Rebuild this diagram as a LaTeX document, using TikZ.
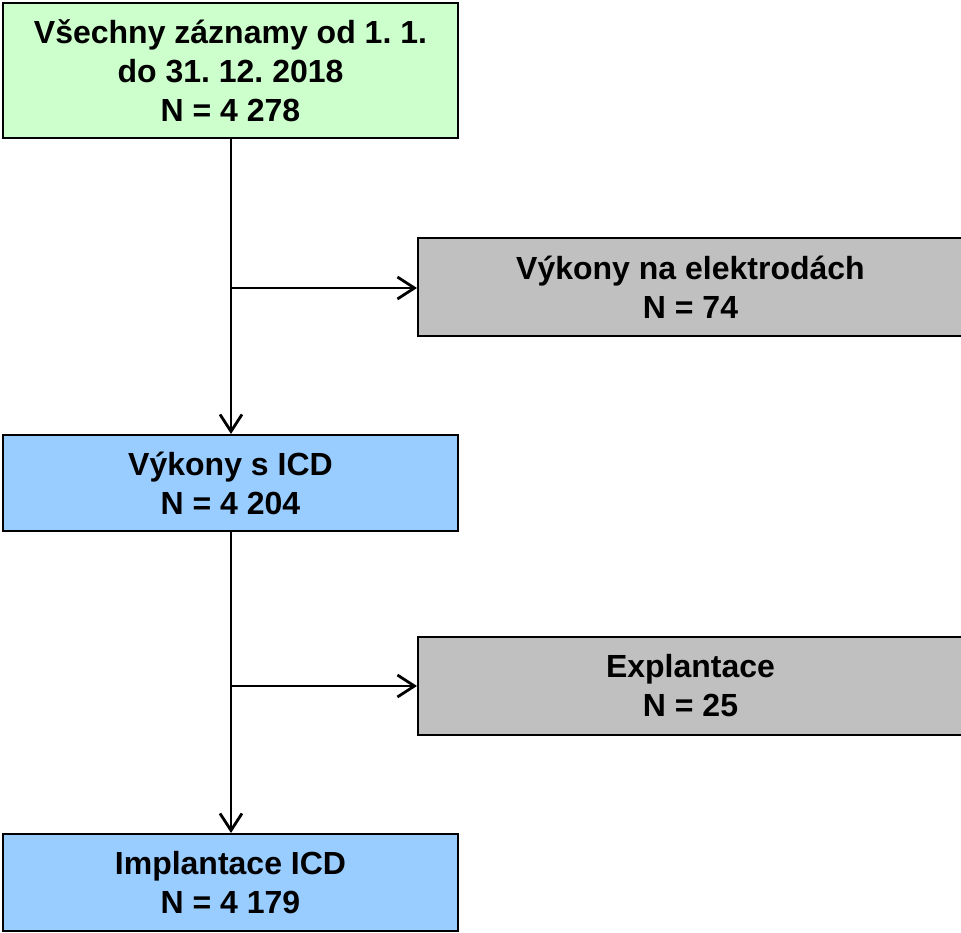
\documentclass[tikz,border=0pt]{standalone}
\usepackage{fontspec}
\setmainfont{Liberation Sans}
\usetikzlibrary{arrows.meta}
\definecolor{boxgreen}{HTML}{CCFFCC}
\definecolor{boxgray}{HTML}{C0C0C0}
\definecolor{boxblue}{HTML}{99CCFF}
\frenchspacing
\begin{document}
\begin{tikzpicture}[x=1pt,y=-1pt,
  box/.style={draw=black, line width=2pt, align=center, inner sep=0pt,
    font=\fontsize{32}{39}\selectfont\bfseries, text=black},
  conn/.style={draw=black, line width=2.7pt, -{Straight Barb[length=17pt,width=22pt,line width=2.8pt]}}]
\useasboundingbox (0,0) rectangle (961,932);
\node[box, fill=boxgreen, minimum width=455pt, minimum height=135pt] (all) at (230.5,70.5)
  {Všechny záznamy od 1. 1.\\do 31. 12. 2018\\N = 4 278};
\node[box, fill=boxgray, minimum width=545pt, minimum height=98pt] (elek) at (690.5,287)
  {Výkony na elektrodách\\N = 74};
\node[box, fill=boxblue, minimum width=455pt, minimum height=96pt] (icd) at (230.5,483)
  {Výkony s ICD\\N = 4 204};
\node[box, fill=boxgray, minimum width=545pt, minimum height=98pt] (expl) at (690.5,686)
  {Explantace\\N = 25};
\node[box, fill=boxblue, minimum width=455pt, minimum height=97pt] (impl) at (230.5,882.5)
  {Implantace ICD\\N = 4 179};
\coordinate (b1) at (231,288);
\coordinate (b2) at (231,686);
\draw[conn] (all.south -| b1) -- (icd.north -| b1);
\draw[conn] (b1) -- (elek.west |- b1);
\draw[conn] (icd.south -| b2) -- (impl.north -| b2);
\draw[conn] (b2) -- (expl.west |- b2);
\end{tikzpicture}
\end{document}
